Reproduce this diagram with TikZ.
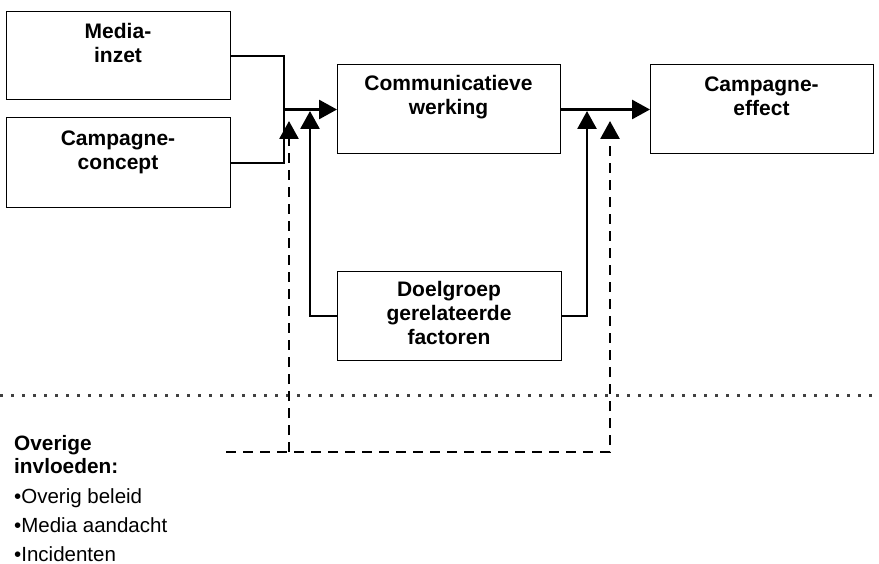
\documentclass[tikz,border=0pt]{standalone}
\usepackage{fontspec}
\setmainfont{Liberation Sans}
\usetikzlibrary{arrows.meta}
\begin{document}
\begin{tikzpicture}[x=1pt,y=-1pt,
  box/.style={draw, line width=1pt, inner sep=0pt, outer sep=0pt},
  lbl/.style={font=\bfseries\fontsize{21}{24}\selectfont, align=center, anchor=north, inner sep=0pt},
  conn/.style={line width=2.8pt},
  tip/.style={-{Triangle[length=18pt,width=19pt]}},
  arr/.style={conn, tip},
  dsh/.style={line width=2.8pt, dash pattern=on 10pt off 7pt, tip},
  dotline/.style={line width=3pt, dash pattern=on 3pt off 8pt, black!75},
]
\useasboundingbox (0,0) rectangle (879,564);

% boxes
\node[box, minimum width=224pt, minimum height=88pt] (mi) at (118,56) {};
\node[box, minimum width=224pt, minimum height=90pt] (cc) at (118,163) {};
\node[box, minimum width=223pt, minimum height=89pt] (cw) at (448.5,109.5) {};
\node[box, minimum width=223pt, minimum height=89pt] (ce) at (761.5,109.5) {};
\node[box, minimum width=224pt, minimum height=88pt] (dg) at (449,316) {};

% labels
\node[lbl] (mit) at ([yshift=-11.5pt]mi.north) {Media-\\inzet};
\node[lbl] (cct) at ([yshift=-13pt]cc.north) {Campagne-\\concept};
\node[lbl] (cwt) at ([yshift=-10.5pt]cw.north) {Communicatieve\\werking};
\node[lbl] (cet) at ([yshift=-11.5pt]ce.north) {Campagne-\\effect};
\node[lbl] (dgt) at ([yshift=-9.5pt]dg.north) {Doelgroep\\gerelateerde\\factoren};

% dotted separator
\coordinate (p0) at (0,395);
\coordinate (p1) at (879,395);
\draw[dotline] (p0) -- (p1);

% solid connectors
\coordinate (j1) at (284,109.5);
\draw[conn] (mi.east) -| (j1) |- (cc.east);
\draw[arr] (j1) -- (cw.west);
\draw[arr] (cw.east) -- (ce.west);
\coordinate (u1) at (310,111);
\coordinate (u2) at (587,111);
\draw[arr] (dg.west) -| (u1);
\draw[arr] (dg.east) -| (u2);

% dashed connectors
\coordinate (d0) at (226,452);
\coordinate (d1) at (289,452);
\coordinate (d2) at (610,452);
\coordinate (t1) at (289,121);
\coordinate (t2) at (610,121);
\draw[dsh] (d0) -- (d2) -- (t2);
\draw[dsh] (d1) -- (t1);

% other influences
\node[anchor=north west, inner sep=0pt, align=left, font=\bfseries\fontsize{20.8}{23}\selectfont] (ov) at (14,435) {Overige\\invloeden:};
\node[anchor=north west, inner sep=0pt, align=left, font=\fontsize{20.5}{29}\selectfont] (bl) at (14,488) {\textbullet Overig beleid\\\textbullet Media aandacht\\\textbullet Incidenten};
\end{tikzpicture}
\end{document}
